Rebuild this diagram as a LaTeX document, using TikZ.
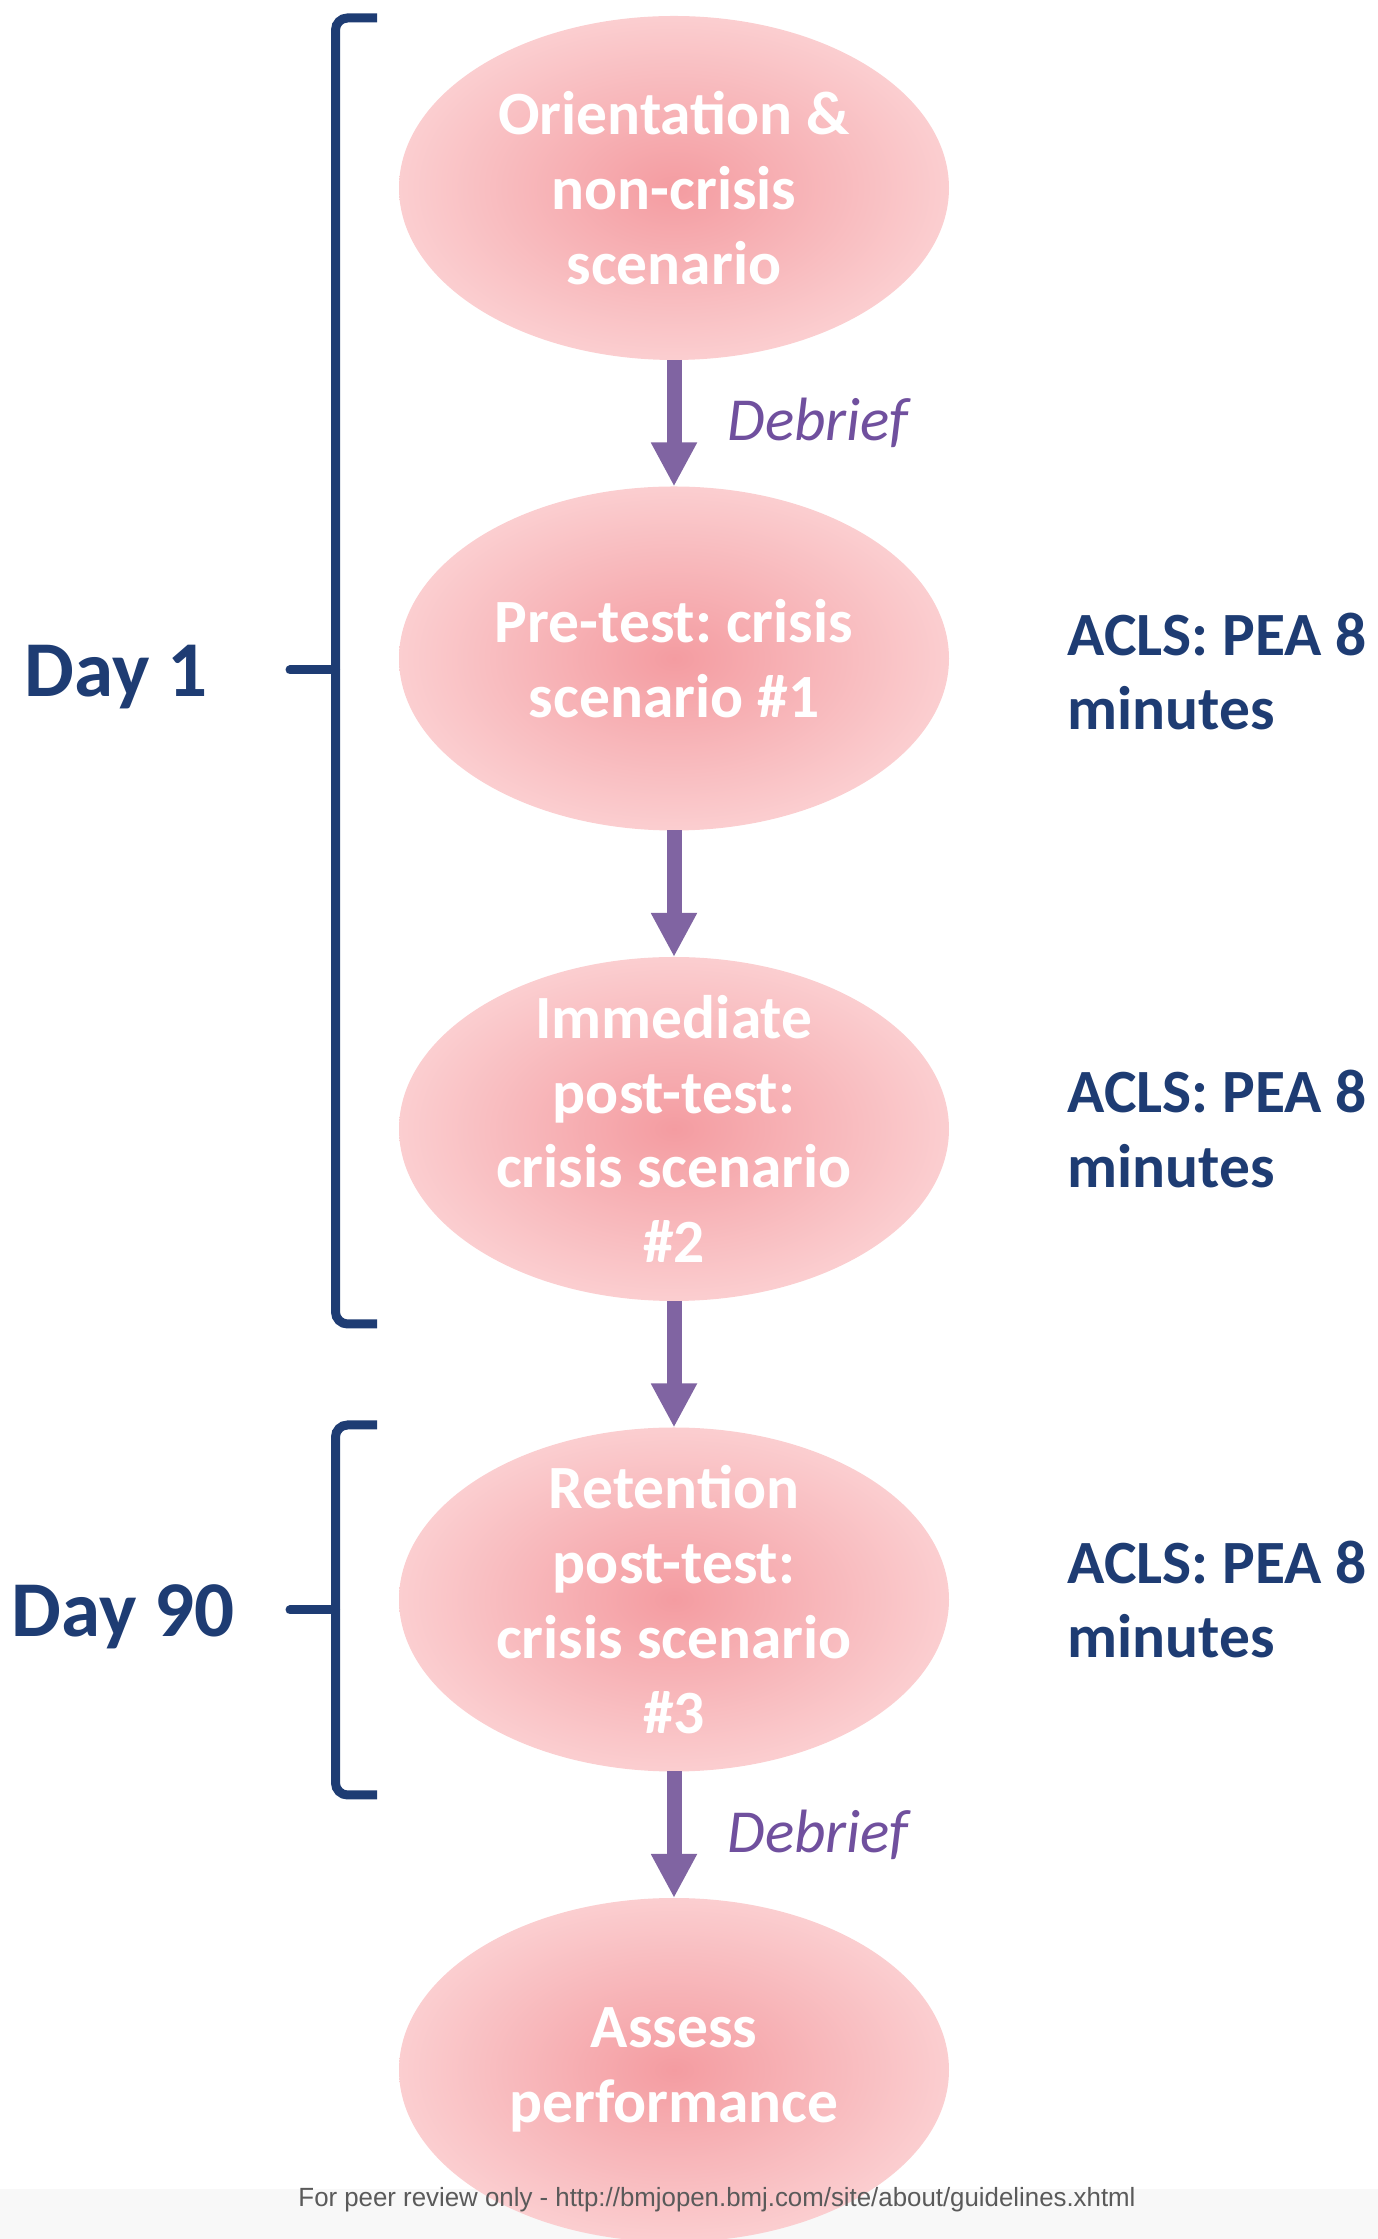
\documentclass[tikz,border=0pt]{standalone}
\usepackage{fontspec}
\setmainfont{Carlito}
\newfontfamily\footfont{Liberation Sans}
\usepackage{tikz}
\usetikzlibrary{arrows.meta,positioning,shapes.geometric}
\frenchspacing

\definecolor{daynavy}{RGB}{30,60,115}
\definecolor{flowpurple}{RGB}{128,100,162}
\definecolor{debriefpurple}{RGB}{112,80,158}
\definecolor{pinkcore}{RGB}{244,156,161}
\definecolor{pinkrim}{RGB}{251,206,208}
\definecolor{footgray}{RGB}{248,248,248}
\definecolor{foottext}{RGB}{90,90,90}

\begin{document}
\begin{tikzpicture}[>=Stealth,
  stagetext/.style={text=white,align=center,font=\bfseries\fontsize{17.5}{21.3}\selectfont},
  stage/.style={ellipse,minimum width=5.5cm,minimum height=3.44cm,inner sep=0pt,outer sep=0pt,
    inner color=pinkcore,outer color=pinkrim,label={[stagetext]center:{#1}}},
  flow/.style={-{Triangle[length=0.44cm,width=0.43cm]},line width=0.15cm,flowpurple},
  debrief/.style={right=0.46cm,inner sep=0pt,text=debriefpurple,font=\itshape\fontsize{17.4}{21}\selectfont},
  acls/.style={inner sep=0pt,align=left,text=daynavy,font=\bfseries\fontsize{17.5}{21.3}\selectfont},
  daylabel/.style={anchor=base west,inner sep=0pt,text=daynavy,font=\bfseries\fontsize{22.5}{27}\selectfont},
  bracket/.style={daynavy,line width=0.09cm}]
\useasboundingbox (0,0) rectangle (13.78,22.39);

% footer band sits behind the last stage
\fill[footgray] (0,0) rectangle (13.78,0.50);

% the five stages
\node[stage={Orientation \&\\non-crisis\\scenario}] (s1) at (6.74,20.51) {};
\node[stage={Pre-test: crisis\\scenario \#1},below=1.265cm of s1] (s2) {};
\node[stage={Immediate\\post-test:\\crisis scenario\\\#2},below=1.265cm of s2] (s3) {};
\node[stage={Retention\\post-test:\\crisis scenario\\\#3},below=1.265cm of s3] (s4) {};
\node[stage={Assess\\performance},below=1.265cm of s4] (s5) {};

\draw[flow] (s1)--(s2) node[midway,debrief] (db1) {Debrief};
\draw[flow] (s2)--(s3);
\draw[flow] (s3)--(s4);
\draw[flow] (s4)--(s5) node[midway,debrief] (db2) {Debrief};

% scenario notes on the right
\node[acls,right=1.18cm of s2,yshift=-0.13cm] (a2) {ACLS: PEA 8\\minutes};
\node[acls,right=1.18cm of s3] (a3) {ACLS: PEA 8\\minutes};
\node[acls,right=1.18cm of s4] (a4) {ACLS: PEA 8\\minutes};

% Day 1 bracket
\coordinate (d1top) at (3.77,22.21);\coordinate (d1mid) at (3.355,15.69);
\coordinate (d1bot) at (3.77,9.15);\coordinate (d1tip) at (2.90,15.69);
\draw[bracket,rounded corners=0.12cm] (d1top) -| (d1mid) |- (d1bot);
\draw[bracket,line cap=round] (d1mid)--(d1tip);
\node[daylabel] (day1) at (0.24,15.42) {Day 1};

% Day 90 bracket
\coordinate (d2top) at (3.77,8.14);\coordinate (d2mid) at (3.355,6.29);
\coordinate (d2bot) at (3.77,4.44);\coordinate (d2tip) at (2.90,6.29);
\draw[bracket,rounded corners=0.12cm] (d2top) -| (d2mid) |- (d2bot);
\draw[bracket,line cap=round] (d2mid)--(d2tip);
\node[daylabel] (day90) at (0.11,6.02) {Day 90};

\node[inner sep=0pt,anchor=base,text=foottext,font=\footfont\fontsize{7.5}{9}\selectfont] (foot) at (7.17,0.32)
  {\scalebox{0.98}[1]{For peer review only - http://bmjopen.bmj.com/site/about/guidelines.xhtml}};
\end{tikzpicture}
\end{document}
